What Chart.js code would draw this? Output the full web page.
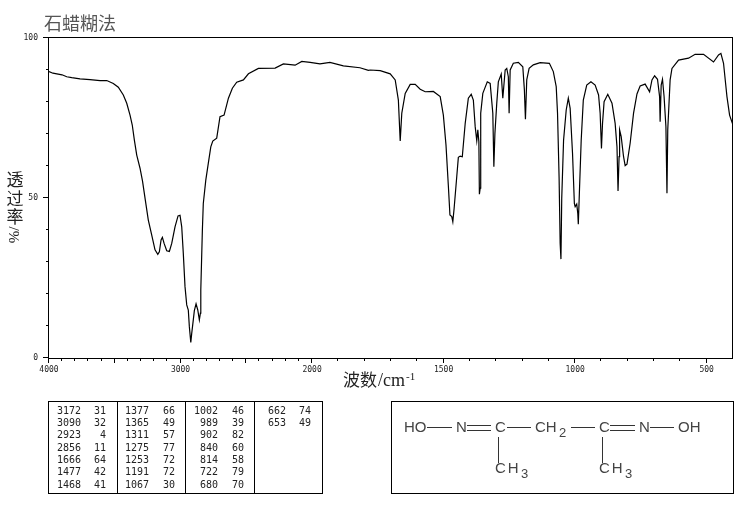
<!DOCTYPE html>
<html>
<head>
<meta charset="utf-8">
<title>石蜡糊法</title>
<script src="https://cdn.jsdelivr.net/npm/chart.js@4"></script>
<style>
    html, body { margin: 0; padding: 0; background: #fff; }
    #wrap { position: relative; width: 737px; height: 510px; }
</style>
</head>
<body>
<div id="wrap"><canvas id="ir_chart" width="737" height="510"></canvas></div>
<script>
// spectrum
const waveNumbers = [
    4000, 3970, 3901, 3865, 3827, 3764, 3688, 3612, 3561, 3511, 3473, 3435, 3409, 3384, 3367, 3351,
    3333, 3308, 3289, 3268, 3245, 3219, 3194, 3173, 3161, 3148, 3138, 3125, 3105, 3085, 3067, 3042,
    3019, 3004, 2991, 2979, 2966, 2953, 2941, 2933, 2922, 2915, 2903, 2895, 2882, 2869, 2857, 2849,
    2846, 2834, 2827, 2808, 2789, 2770, 2755, 2725, 2700, 2669, 2636, 2606, 2573, 2522, 2484, 2408,
    2281, 2218, 2129, 2078, 2015, 1970, 1932, 1881, 1818, 1786, 1779, 1741, 1703, 1684, 1672, 1665,
    1659, 1646, 1627, 1608, 1589, 1570, 1539, 1513, 1501, 1491, 1482, 1476, 1469, 1465, 1460, 1450,
    1444, 1437, 1429, 1418, 1406, 1395, 1387, 1380, 1374, 1370, 1366, 1364, 1361, 1359, 1351, 1334,
    1323, 1313, 1309, 1305, 1298, 1292, 1281, 1275, 1266, 1260, 1254, 1251, 1247, 1235, 1216, 1199,
    1193, 1189, 1184, 1175, 1159, 1133, 1098, 1083, 1072, 1067, 1061, 1057, 1054, 1051, 1044, 1034,
    1026, 1019, 1010, 1003, 1000, 994, 990, 988, 984, 977, 969, 956, 940, 924, 911, 905,
    900, 896, 890, 876, 860, 848, 841, 837, 833, 831, 825, 816, 810, 803, 791, 778,
    765, 753, 734, 717, 708, 698, 687, 679, 677, 673, 668, 662, 655, 651, 648, 639,
    632, 607, 569, 544, 512, 474, 455, 446, 436, 423, 413, 400
];
const transmittance = [
    89.5, 89.0, 88.5, 87.9, 87.6, 87.2, 87.0, 86.7, 86.7, 85.8, 84.6, 82.2, 79.6, 75.9, 72.8, 68.1,
    63.4, 59.3, 55.3, 49.4, 43.1, 38.4, 33.8, 32.4, 33.2, 36.9, 37.7, 35.8, 33.5, 33.3, 35.8, 41.0,
    44.4, 44.6, 41.0, 32.7, 22.3, 16.6, 15.0, 9.8, 4.9, 7.7, 11.9, 14.8, 16.9, 15.0, 11.9, 14.0,
    21.3, 40.0, 48.3, 55.6, 60.8, 66.0, 67.8, 68.7, 75.4, 75.9, 81.2, 84.3, 86.2, 86.9, 88.8, 90.5,
    90.6, 91.9, 91.5, 92.7, 92.4, 91.9, 92.4, 91.3, 90.7, 89.9, 90.0, 89.8, 88.8, 86.9, 80.6, 67.8,
    76.5, 82.7, 85.5, 85.5, 84.0, 83.2, 83.3, 81.7, 75.9, 66.6, 53.8, 44.7, 44.2, 42.6, 46.8, 56.7,
    62.7, 63.1, 62.9, 73.3, 81.2, 82.4, 80.6, 72.3, 67.9, 71.3, 67.6, 51.2, 53.1, 76.5, 82.7, 86.3,
    85.8, 76.5, 59.8, 70.2, 79.6, 86.3, 88.7, 81.2, 90.0, 90.5, 87.9, 76.5, 90.0, 92.1, 92.4, 91.0,
    83.8, 74.6, 86.9, 90.5, 91.6, 92.3, 92.1, 89.5, 84.8, 76.5, 56.2, 35.8, 30.9, 49.9, 68.1, 77.5,
    81.2, 78.0, 64.0, 48.3, 47.3, 48.1, 45.2, 41.8, 51.5, 68.1, 80.6, 85.3, 86.3, 85.3, 82.2, 76.5,
    65.5, 73.3, 80.1, 82.4, 79.6, 73.3, 66.0, 52.2, 62.9, 71.3, 69.2, 62.9, 60.1, 60.6, 67.1, 76.5,
    82.5, 85.0, 85.6, 83.2, 86.9, 88.2, 87.1, 81.7, 73.8, 85.3, 87.1, 81.7, 72.3, 51.5, 71.3, 86.9,
    90.5, 93.1, 93.7, 94.9, 94.9, 92.5, 94.7, 95.2, 92.1, 81.7, 75.9, 72.8
];

// tick labels
const xLabels = [4000, 3000, 2000, 1500, 1000, 500];
const yLabels = [0, 50, 100];

// peak table, one list per column
const peakWave1 = [3172, 3090, 2923, 2856, 1666, 1477, 1468];
const peakT1 = [31, 32, 4, 11, 64, 42, 41];
const peakWave2 = [1377, 1365, 1311, 1275, 1253, 1191, 1067];
const peakT2 = [66, 49, 57, 77, 72, 72, 30];
const peakWave3 = [1002, 989, 902, 840, 814, 722, 680];
const peakT3 = [46, 39, 82, 60, 58, 79, 70];
const peakWave4 = [662, 653];
const peakT4 = [74, 49];

// the wavenumber axis changes scale at 2000: 4000-2000 is squeezed to half
function axisPos(w) {
    return w >= 2000 ? (4000 - w) / 2 : 1000 + (2000 - w);
}

const points = waveNumbers.map((w, i) => ({ x: axisPos(w), y: transmittance[i] }));

function txt(ctx, s, x, y, font, color, align) {
    ctx.font = font;
    ctx.fillStyle = color || '#111';
    ctx.textAlign = align || 'left';
    ctx.textBaseline = 'middle';
    ctx.fillText(s, x, y);
}

function seg(ctx, x1, y1, x2, y2) {
    ctx.beginPath();
    ctx.moveTo(x1, y1);
    ctx.lineTo(x2, y2);
    ctx.stroke();
}

// frame and the two tick lengths
const axisMarks = {
    id: 'axisMarks',
    afterDatasetsDraw(chart) {
        const ctx = chart.ctx, xs = chart.scales.x, ys = chart.scales.y, a = chart.chartArea;
        ctx.save();
        ctx.strokeStyle = '#000';
        ctx.lineWidth = 1;
        ctx.strokeRect(a.left - 0.5, a.top - 0.5, a.right - a.left, a.bottom - a.top + 1);
        for (let w = 3900; w > 400; w -= 100) {
            const px = Math.round(xs.getPixelForValue(axisPos(w))) - 0.5;
            seg(ctx, px, a.bottom, px, a.bottom + (w % 500 === 0 ? 5 : 3));
        }
        let px0 = a.left - 0.5;
        seg(ctx, px0, a.bottom, px0, a.bottom + 5);
        for (let t = 0; t <= 100; t += 10) {
            const py = Math.round(ys.getPixelForValue(t)) - 0.5;
            seg(ctx, a.left, py, a.left - (t % 50 === 0 ? 6 : 3), py);
        }
        ctx.restore();
    }
};

// title, axis captions, peak table, structure
const extras = {
    id: 'extras',
    afterDraw(chart) {
        const ctx = chart.ctx;
        const cjk = '"Noto Sans CJK SC"';
        ctx.save();
        txt(ctx, '石蜡糊法', 44, 23, '18px ' + cjk, '#555');

        txt(ctx, '透', 15, 180, '17px ' + cjk, '#222', 'center');
        txt(ctx, '过', 15, 199, '17px ' + cjk, '#222', 'center');
        txt(ctx, '率', 15, 217, '17px ' + cjk, '#222', 'center');
        ctx.save();
        ctx.translate(15, 235);
        ctx.rotate(-Math.PI / 2);
        txt(ctx, '%/', 0, 0, '15px "Liberation Serif"', '#222', 'center');
        ctx.restore();

        txt(ctx, '波数', 343, 380, '17px ' + cjk, '#222');
        txt(ctx, '/cm', 378, 381, '18px "Liberation Serif"', '#222');
        txt(ctx, '-1', 406, 377, '11px "Liberation Serif"', '#222');

        // table
        ctx.strokeStyle = '#000';
        ctx.lineWidth = 1;
        ctx.strokeRect(48.5, 401.5, 274, 92);
        [117.5, 185.5, 254.5].forEach(x => seg(ctx, x, 401.5, x, 493.5));
        const mono = '10px "DejaVu Sans Mono"';
        const cols = [
            [peakWave1, peakT1, 81, 106],
            [peakWave2, peakT2, 149, 175],
            [peakWave3, peakT3, 218, 244],
            [peakWave4, peakT4, 286, 311]
        ];
        cols.forEach(c => {
            c[0].forEach((w, i) => {
                const y = 411 + i * 12.35;
                txt(ctx, String(w), c[2], y, mono, '#222', 'right');
                txt(ctx, String(c[1][i]), c[3], y, mono, '#222', 'right');
            });
        });

        // structure box
        ctx.strokeRect(391.5, 401.5, 342, 92);
        const f = '15px "Liberation Sans"', sub = '13px "Liberation Sans"', c = '#444';
        txt(ctx, 'HO', 404, 428, f, c);
        txt(ctx, 'N', 456, 428, f, c);
        txt(ctx, 'C', 495, 428, f, c);
        txt(ctx, 'CH', 535, 428, f, c);
        txt(ctx, '2', 559, 433, sub, c);
        txt(ctx, 'C', 599, 428, f, c);
        txt(ctx, 'N', 639, 428, f, c);
        txt(ctx, 'OH', 678, 428, f, c);
        ctx.letterSpacing = '2px';
        txt(ctx, 'CH', 495, 469, f, c);
        txt(ctx, 'CH', 599, 469, f, c);
        ctx.letterSpacing = '0px';
        txt(ctx, '3', 521, 474, sub, c);
        txt(ctx, '3', 625, 474, sub, c);
        ctx.strokeStyle = '#333';
        seg(ctx, 427, 427.5, 452, 427.5);
        seg(ctx, 467, 425.5, 491, 425.5);
        seg(ctx, 467, 430.5, 491, 430.5);
        seg(ctx, 507, 427.5, 531, 427.5);
        seg(ctx, 571, 427.5, 595, 427.5);
        seg(ctx, 610, 425.5, 635, 425.5);
        seg(ctx, 610, 430.5, 635, 430.5);
        seg(ctx, 650, 427.5, 674, 427.5);
        seg(ctx, 498.5, 437, 498.5, 463);
        seg(ctx, 602.5, 437, 602.5, 463);
        ctx.restore();
    }
};

new Chart(document.getElementById('ir_chart').getContext('2d'), {
    type: 'line',
    data: {
        datasets: [{
            data: points,
            borderColor: '#000',
            borderWidth: 1.2,
            pointRadius: 0,
            tension: 0,
            fill: false
        }]
    },
    options: {
        responsive: false,
        animation: false,
        layout: { padding: { top: 38, right: 4, left: 0, bottom: 0 } },
        plugins: { legend: { display: false }, tooltip: { enabled: false } },
        scales: {
            x: {
                type: 'linear',
                min: 0,
                max: 2600,
                afterFit(s) { s.height = 152; },
                afterBuildTicks(s) { s.ticks = xLabels.map(w => ({ value: axisPos(w) })); },
                grid: { display: false, drawTicks: false },
                border: { display: false },
                ticks: {
                    autoSkip: false,
                    maxRotation: 0,
                    padding: 7,
                    color: '#222',
                    font: { family: '"DejaVu Sans Mono"', size: 8 },
                    callback: v => {
                        const hit = xLabels.find(w => axisPos(w) === v);
                        return hit === undefined ? '' : String(hit);
                    }
                }
            },
            y: {
                min: 0,
                max: 100,
                afterFit(s) { s.width = 49; },
                afterBuildTicks(s) { s.ticks = yLabels.map(t => ({ value: t })); },
                grid: { display: false, drawTicks: false },
                border: { display: false },
                ticks: {
                    padding: 11,
                    color: '#222',
                    font: { family: '"DejaVu Sans Mono"', size: 8 }
                }
            }
        }
    },
    plugins: [axisMarks, extras]
});
</script>
</body>
</html>
